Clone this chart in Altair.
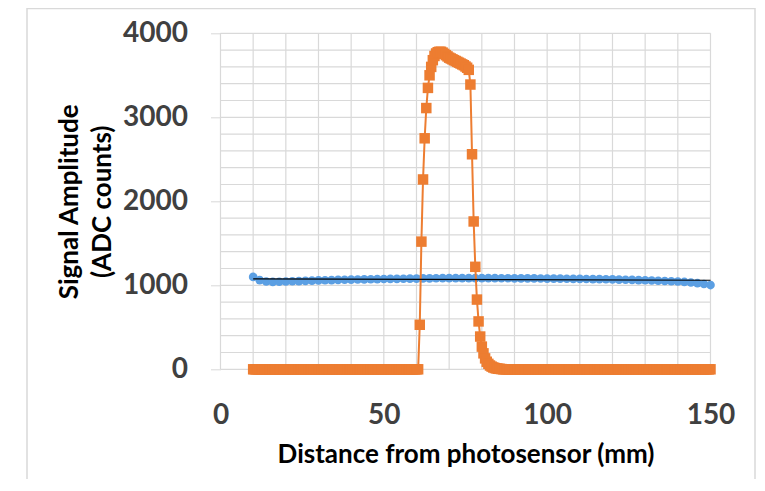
import altair as alt
import pandas as pd

# ---- data ----
blue_x = list(range(10, 151, 2))
blue_y = [1100, 1062, 1045, 1040, 1042, 1045, 1048, 1050, 1053, 1056,
          1058, 1060, 1062, 1064, 1066, 1068, 1069, 1070, 1072, 1074,
          1075, 1076, 1077, 1078, 1079, 1080, 1082, 1083, 1084, 1085,
          1085, 1086, 1086, 1086, 1086, 1086, 1085, 1085, 1084, 1084,
          1083, 1083, 1082, 1082, 1081, 1080, 1080, 1079, 1078, 1077,
          1076, 1075, 1074, 1073, 1072, 1070, 1068, 1066, 1064, 1062,
          1060, 1057, 1054, 1051, 1048, 1045, 1040, 1033, 1025, 1015,
          1003]

orange_x = [10 + 0.5 * i for i in range(281)]
orange_zero_left = [0] * 102          # 10.0 .. 60.5 mm
orange_peak = [530, 1520, 2260, 2750, 3110, 3350, 3500, 3600, 3680, 3730,
               3760, 3775, 3780, 3780, 3770, 3755, 3740, 3725, 3710, 3700,
               3690, 3680, 3670, 3660, 3650, 3640, 3630, 3620, 3605, 3590,
               3565, 3390, 2560, 1760, 1220, 830, 570, 390, 270, 190,
               130, 90, 65, 45, 32, 22, 15, 10, 7, 5, 3]   # 61.0 .. 86.0 mm
orange_zero_right = [0] * 128         # 86.5 .. 150 mm
orange_y = orange_zero_left + orange_peak + orange_zero_right

trend_x = [10, 150]
trend_y = [1077, 1060]

x_grid = list(range(0, 151, 10))
y_grid = list(range(0, 4001, 200))
x_ticks = [0, 50, 100, 150]
y_ticks = [0, 1000, 2000, 3000, 4000]

BLUE = "#5B9FE3"
ORANGE = "#ED7D31"
GRID = "#D9D9D9"
FONT = "Lato"

blue_df = pd.DataFrame({"x": blue_x, "y": blue_y})
orange_df = pd.DataFrame({"x": orange_x, "y": orange_y})
trend_df = pd.DataFrame({"x": trend_x, "y": trend_y})
vgrid_df = pd.DataFrame({"x": x_grid})
hgrid_df = pd.DataFrame({"y": y_grid})

x_axis = alt.Axis(values=x_ticks, grid=False, domain=False, ticks=False, tickSize=0,
                  labelFont=FONT, labelFontSize=28, labelFontWeight="bold",
                  labelColor="#404040", labelBaseline="alphabetic", labelPadding=54,
                  labelFlush=False, labelOverlap=False,
                  title="Distance from photosensor (mm)", titleFont=FONT,
                  titleFontSize=26, titleFontWeight="bold", titleColor="black",
                  titleX=245, titleY=93, titleBaseline="alphabetic", titleAlign="center")

y_axis = alt.Axis(values=y_ticks, format="d", grid=False, domain=False, ticks=True,
                  tickSize=10, tickColor=GRID, tickWidth=1,
                  labelFont=FONT, labelFontSize=28, labelFontWeight="bold",
                  labelColor="#404040", labelPadding=23,
                  title=["Signal Amplitude", "(ADC counts)"], titleFont=FONT,
                  titleFontSize=26, titleFontWeight="bold", titleColor="black",
                  titleLineHeight=33, titleAngle=270, titleX=-143, titleY=168,
                  titleAlign="center", titleBaseline="alphabetic")

xs = alt.Scale(domain=[0, 150], nice=False, zero=False)
ys = alt.Scale(domain=[0, 4000], nice=False)

X = alt.X("x:Q", scale=xs, axis=x_axis)
Y = alt.Y("y:Q", scale=ys, axis=y_axis)

border = alt.Chart(pd.DataFrame({"a": [0]})).mark_rect(
    fill="transparent", stroke=GRID, strokeWidth=1.5
).encode(x=alt.value(-193.5), x2=alt.value(534.5), y=alt.value(-24.8), y2=alt.value(470))

vgrid = alt.Chart(vgrid_df).mark_rule(color=GRID, strokeWidth=1.2).encode(x=X)
hgrid = alt.Chart(hgrid_df).mark_rule(color=GRID, strokeWidth=1.2).encode(y=Y)

blue_line = alt.Chart(blue_df).mark_line(color=BLUE, strokeWidth=3).encode(x=X, y=Y)
blue_pts = alt.Chart(blue_df).mark_circle(color=BLUE, size=75, opacity=1).encode(x=X, y=Y)
orange_line = alt.Chart(orange_df).mark_line(color=ORANGE, strokeWidth=2).encode(x=X, y=Y)
orange_pts = alt.Chart(orange_df).mark_square(color=ORANGE, size=110, opacity=1).encode(x=X, y=Y)
trend = alt.Chart(trend_df).mark_line(color="black", strokeWidth=1.2).encode(x=X, y=Y)

chart = alt.layer(border, vgrid, hgrid, blue_line, blue_pts, orange_line, orange_pts, trend).properties(
    width=490, height=336,
    autosize=alt.AutoSizeParams(type="none"),
    padding={"left": 212.5, "top": 25.3, "right": 45.5, "bottom": 110},
).configure_view(stroke=None)

chart.save("out.html", embed_options={"renderer": "svg", "actions": False})
